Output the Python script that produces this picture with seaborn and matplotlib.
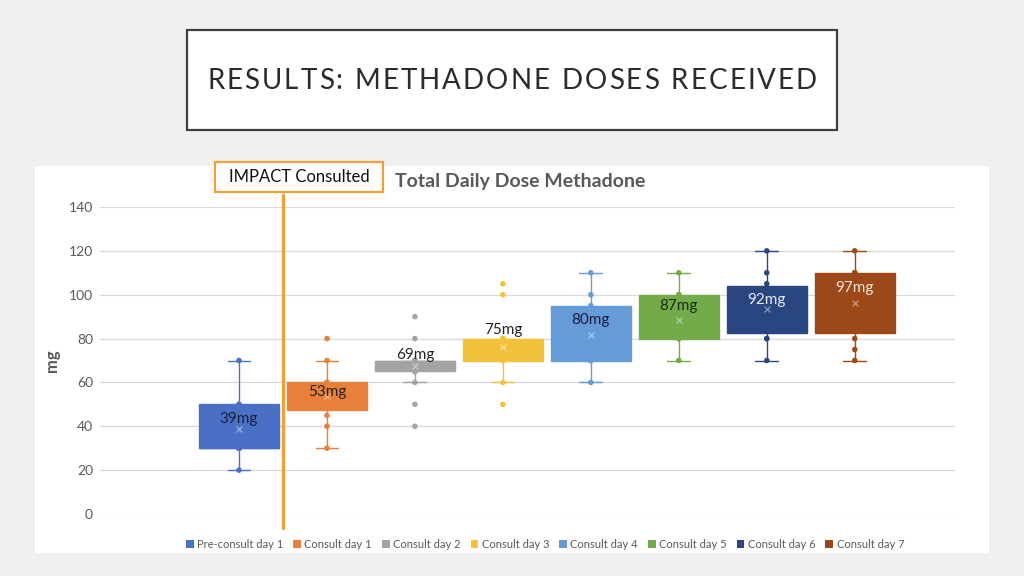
import numpy as np
import pandas as pd
import matplotlib.pyplot as plt
import seaborn as sns
from matplotlib.patches import Rectangle, Patch

# groups and colors (Excel palette, as rendered on the slide)
groups = ["Pre-consult day 1", "Consult day 1", "Consult day 2", "Consult day 3",
          "Consult day 4", "Consult day 5", "Consult day 6", "Consult day 7"]
colors = ["#4A70C6", "#E9803A", "#A3A3A3", "#F4C13A",
          "#659BD6", "#74AB4A", "#2A4680", "#9C4818"]

# daily doses (mg) read from the points / boxes
pre_day1 = [20, 30, 30, 30, 30, 40, 50, 50, 70]
day1 = [30, 40, 45, 50, 50, 50, 55, 60, 60, 70, 80]
day2 = [40, 50, 60, 65, 65, 65, 70, 70, 70, 70, 70, 70, 70, 70, 70, 80, 90]
day3 = [50, 60, 70, 70, 70, 75, 80, 80, 80, 100, 105]
day4 = [60, 70, 70, 70, 80, 80, 95, 100, 110]
day5 = [70, 80, 80, 80, 85, 90, 100, 100, 110]
day6 = [70, 80, 80, 85, 90, 90, 95, 102.5, 105, 110, 120]
day7 = [70, 75, 80, 85, 95, 100, 105, 110, 110, 110, 120]

avg_labels = ["39mg", "53mg", "69mg", "75mg", "80mg", "87mg", "92mg", "97mg"]
label_y = [43.5, 55.5, 72.5, 84, 88.5, 95, 97.5, 103]
label_colors = ["#1c1c3c", "#222222", "#222222", "#222222",
                "#1c1c3c", "#1c2a10", "#e8ecf4", "#f6e6da"]

all_vals = [pre_day1, day1, day2, day3, day4, day5, day6, day7]
df = pd.DataFrame({
    "group": np.repeat(groups, [len(v) for v in all_vals]),
    "mg": np.concatenate(all_vals),
})

sns.set_style("white")
plt.rcParams["font.family"] = ["Lato", "DejaVu Sans"]

fig = plt.figure(figsize=(10.24, 5.76), dpi=100)
fig.patch.set_facecolor("#f0f0f0")

W, H = 1024, 576
def fx(px):
    return px / W
def fy(py):
    return 1 - py / H

# title box
fig.patches.append(Rectangle((fx(187), fy(130)), fx(650), 100 / H, transform=fig.transFigure,
                             facecolor="white", edgecolor="#404040", lw=1.6, zorder=-2))
# chart panel
fig.patches.append(Rectangle((fx(35), fy(553)), fx(954), 387 / H, transform=fig.transFigure,
                             facecolor="white", edgecolor="none", zorder=-2))

# letter spaced slide title
title = "RESULTS: METHADONE DOSES RECEIVED"
renderer = fig.canvas.get_renderer()
tkw = dict(fontsize=20, color="#2b2b2b", family=["Lato", "DejaVu Sans"])
widths = []
for ch in title:
    if ch == " ":
        widths.append(20 * 1.39 * 0.28)
    else:
        t = fig.text(0, 0, ch, **tkw)
        widths.append(t.get_window_extent(renderer).width)
        t.remove()
spacing = (610 - sum(widths)) / (len(title) - 1)
x = 512 - 610 / 2
for ch, w in zip(title, widths):
    if ch != " ":
        fig.text(fx(x), fy(89), ch, ha="left", va="baseline", **tkw)
    x += w + spacing

# plot axes
ax = fig.add_axes([fx(100), fy(514), fx(855), (514 - 207) / H])
ax.set_facecolor("none")
ax.set_zorder(1)

sns.stripplot(data=df, x="group", y="mg", hue="group", order=groups, hue_order=groups,
              palette=colors, jitter=False, size=4, legend=False, ax=ax, zorder=1.5)

for i, g in enumerate(groups):
    sub = df[df["group"] == g]
    c = colors[i]
    sns.boxplot(data=sub, x="group", y="mg", order=groups, color=c, linecolor=c,
                saturation=1, width=0.91, linewidth=1, showfliers=False,
                capwidths=0.26, medianprops={"color": c},
                showmeans=True,
                meanprops={"marker": "x", "markeredgecolor": "white",
                           "markersize": 5, "alpha": 0.4},
                ax=ax)

ax.set_ylim(0, 140)
ax.set_xlim(-1.58, 8.14)
ax.set_yticks(range(0, 141, 20))
ax.yaxis.grid(True, color="#d9d9d9", lw=0.9)
ax.set_axisbelow(True)
for s in ax.spines.values():
    s.set_visible(False)
ax.set_xticks([])
ax.set_xlabel("")
ax.tick_params(axis="y", length=0, pad=5, labelsize=10, labelcolor="#595959")
ax.set_ylabel("mg", fontsize=12, fontweight="bold", color="#595959", labelpad=6)

for i, (lab, yv, lc) in enumerate(zip(avg_labels, label_y, label_colors)):
    ax.text(i, yv, lab, ha="center", va="center", fontsize=11, color=lc, zorder=5)

# IMPACT consulted marker
ax.plot([0.5, 0.5], [-6.4, 145.5], color="#EEA236", lw=2.4, clip_on=False, zorder=6)
fig.patches.append(Rectangle((fx(215), fy(192)), fx(168), 30 / H, transform=fig.transFigure,
                             facecolor="white", edgecolor="#EEA236", lw=1.6, zorder=5))
fig.text(fx(299), fy(177), "IMPACT Consulted", ha="center", va="center",
         fontsize=12, color="#111111", zorder=6)

fig.text(fx(520), fy(181), "Total Daily Dose Methadone", ha="center", va="center",
         fontsize=14, fontweight="bold", color="#595959")

handles = [Patch(facecolor=c, edgecolor="none") for c in colors]
fig.legend(handles, groups, loc="center", bbox_to_anchor=(fx(545), fy(544)), ncol=8,
           frameon=False, fontsize=8, handlelength=0.7, handleheight=0.7,
           columnspacing=0.9, handletextpad=0.3, labelcolor="#595959")

fig.savefig("out.png", dpi=100, facecolor=fig.get_facecolor())
